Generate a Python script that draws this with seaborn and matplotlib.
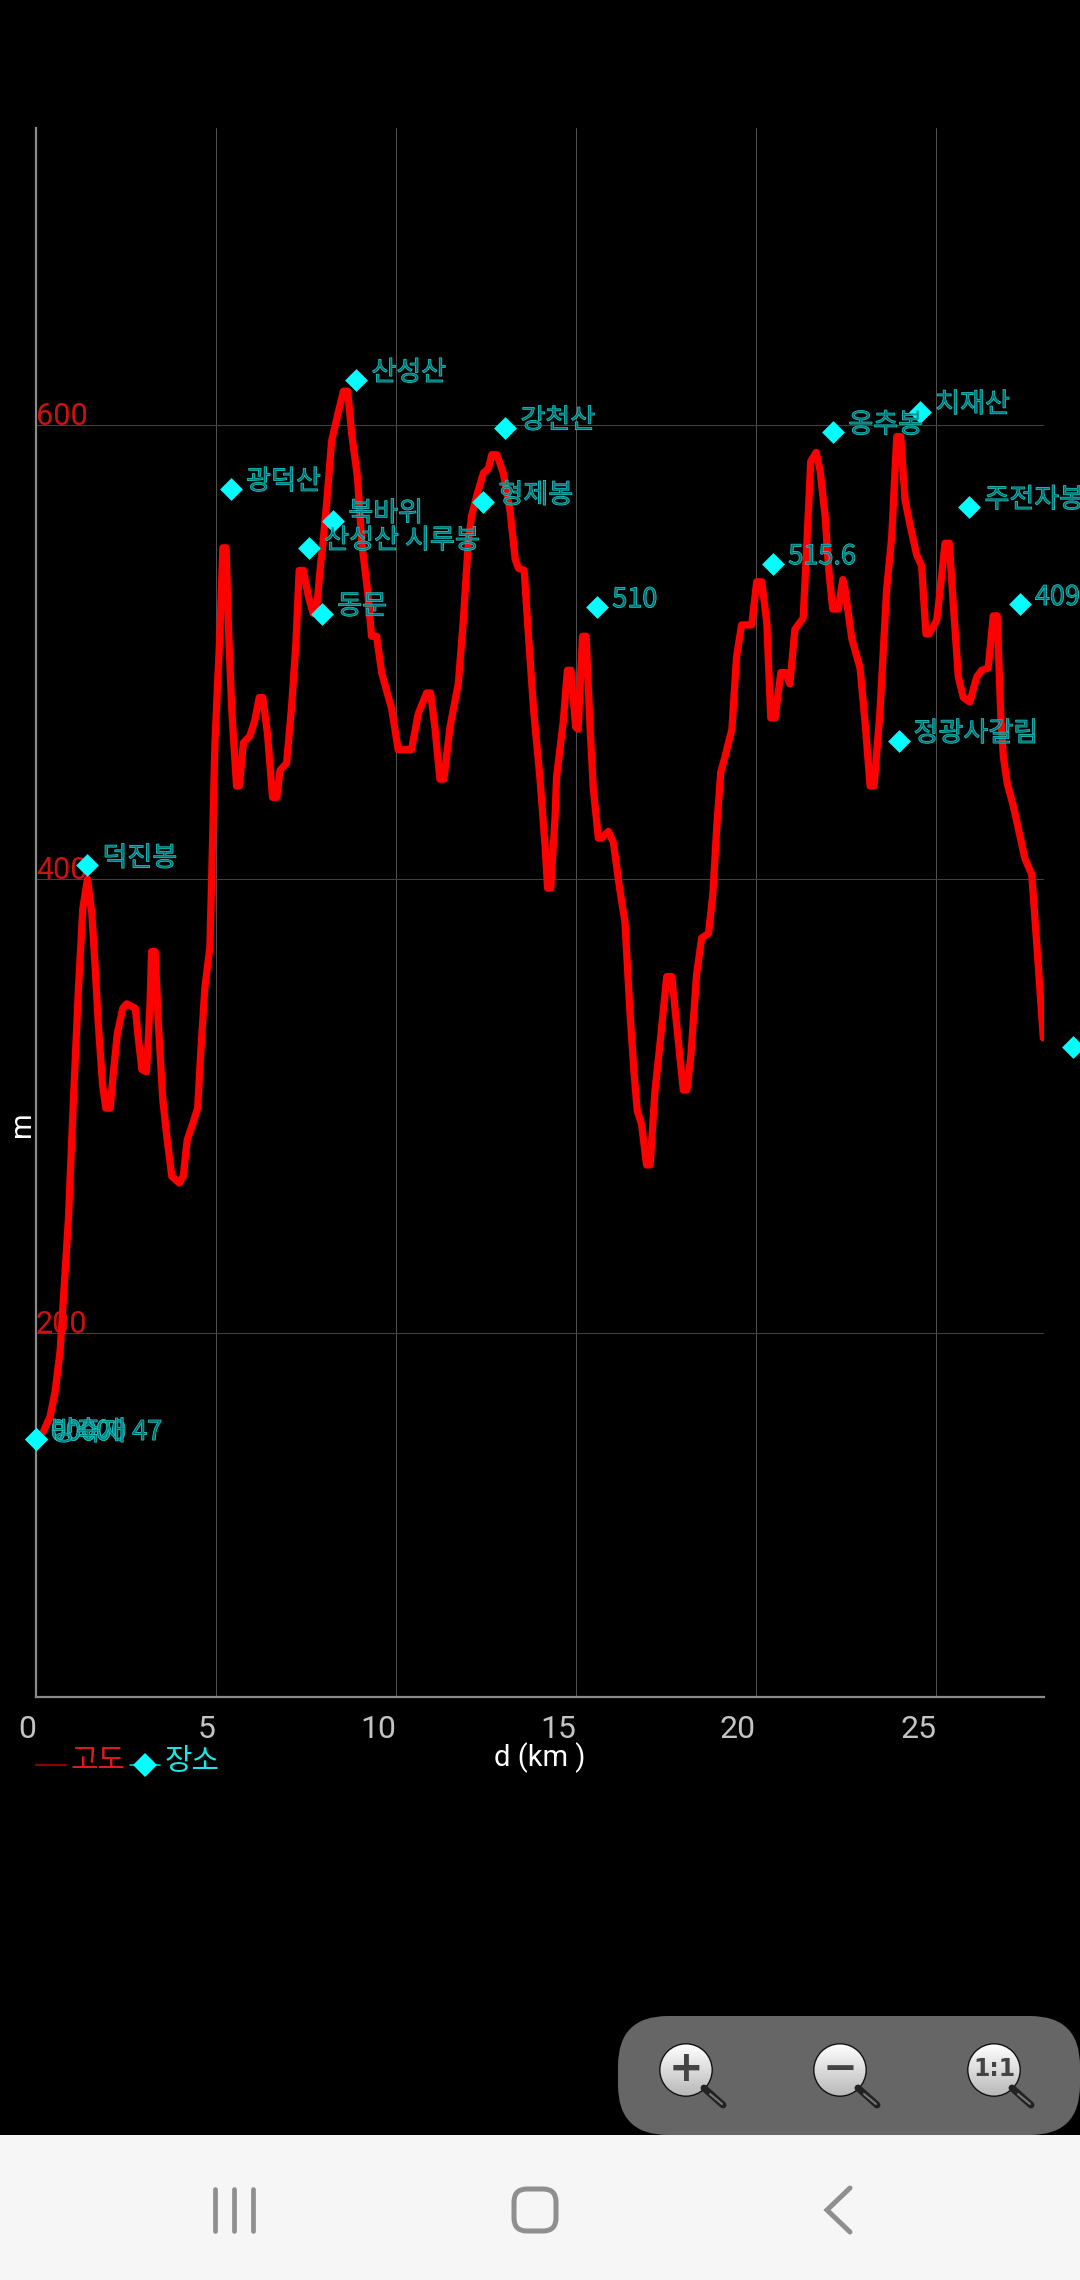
import numpy as np
import pandas as pd
import matplotlib.pyplot as plt
import matplotlib.patheffects as pe
from matplotlib.patches import Circle, FancyBboxPatch, Rectangle
import seaborn as sns

# Elevation profile
dist_km = [0, 0.19, 0.39, 0.53, 0.67, 0.90, 1.04, 1.18, 1.30, 1.43, 1.55, 1.64, 1.73, 1.85, 1.94, 2.06, 2.15, 2.26, 2.41, 2.52,
           2.76, 2.84, 2.94, 3.07, 3.17, 3.21, 3.31, 3.40, 3.52, 3.63, 3.77, 3.98, 4.09, 4.20, 4.37, 4.49, 4.57, 4.69, 4.83, 4.88,
           4.97, 5.11, 5.19, 5.28, 5.35, 5.44, 5.57, 5.65, 5.76, 5.94, 6.08, 6.20, 6.30, 6.43, 6.57, 6.69, 6.78, 6.96, 7.10, 7.22,
           7.31, 7.43, 7.56, 7.70, 7.81, 7.92, 7.96, 8.07, 8.21, 8.40, 8.54, 8.66, 8.77, 8.93, 9.05, 9.21, 9.32, 9.46, 9.60, 9.74,
           9.88, 10.06, 10.43, 10.62, 10.85, 10.96, 11.08, 11.22, 11.33, 11.50, 11.73, 11.87, 12.01, 12.10, 12.26, 12.43, 12.57, 12.66, 12.80, 12.98,
           13.17, 13.31, 13.40, 13.56, 13.68, 13.82, 14.00, 14.14, 14.21, 14.30, 14.42, 14.46, 14.65, 14.76, 14.86, 14.99, 15.06, 15.18, 15.28, 15.39,
           15.48, 15.62, 15.71, 15.90, 16.04, 16.20, 16.36, 16.50, 16.61, 16.70, 16.82, 16.96, 17.06, 17.19, 17.33, 17.52, 17.66, 17.84, 17.98, 18.08,
           18.19, 18.35, 18.49, 18.68, 18.80, 18.91, 19.02, 19.14, 19.33, 19.46, 19.60, 19.88, 20.02, 20.16, 20.30, 20.41, 20.53, 20.69, 20.82, 20.94,
           21.08, 21.31, 21.41, 21.52, 21.67, 21.78, 21.92, 22.01, 22.13, 22.29, 22.41, 22.47, 22.66, 22.89, 23.03, 23.17, 23.28, 23.44, 23.63, 23.77,
           23.91, 24.02, 24.14, 24.28, 24.46, 24.60, 24.72, 24.81, 25.02, 25.16, 25.25, 25.37, 25.48, 25.62, 25.76, 25.94, 26.13, 26.27, 26.45, 26.59,
           26.70, 26.80, 26.87, 26.98, 27.15, 27.33, 27.47, 27.66, 27.80, 27.98]
elev_m = [154, 156, 163, 174, 192, 250, 303, 352, 387, 400, 385, 362, 336, 309, 299, 299, 315, 332, 343, 345,
          343, 330, 316, 315, 346, 368, 368, 336, 303, 287, 269, 266, 269, 285, 293, 299, 322, 352, 370, 401,
          460, 509, 546, 546, 509, 474, 441, 441, 460, 463, 470, 480, 480, 464, 436, 436, 448, 451, 476, 504,
          536, 536, 525, 517, 522, 541, 546, 565, 593, 606, 615, 615, 596, 577, 548, 527, 507, 507, 491, 483,
          475, 457, 457, 473, 482, 482, 467, 444, 444, 467, 486, 514, 549, 560, 570, 579, 581, 587, 587, 579,
          562, 541, 537, 536, 507, 475, 444, 415, 396, 396, 428, 445, 470, 492, 492, 467, 466, 507, 507, 467,
          440, 418, 418, 421, 416, 397, 381, 341, 315, 298, 292, 274, 274, 306, 327, 357, 357, 329, 307, 307,
          322, 358, 374, 376, 393, 423, 447, 454, 466, 498, 512, 512, 531, 531, 513, 471, 471, 491, 491, 486,
          510, 515, 547, 584, 588, 580, 560, 538, 519, 519, 532, 528, 506, 493, 469, 441, 441, 473, 528, 551,
          595, 595, 567, 556, 543, 538, 508, 508, 514, 534, 548, 548, 521, 489, 480, 478, 489, 492, 493, 516,
          516, 472, 454, 442, 432, 419, 409, 402, 371, 330]

# Named places
place_km = [0, 0, 0, 1.43, 5.42, 7.95, 7.59, 8.26, 8.90, 13.04, 12.43, 15.59, 20.48, 22.15, 24.56, 25.93, 27.33, 23.96, 28.80]
place_m = [153, 153, 153, 406, 572, 517, 546, 558, 620, 599, 566, 520, 539, 597, 606, 564, 521, 461, 326]
place_names = ['00000 47', '0000', '방축재', '덕진봉', '광덕산', '동문', '산성산 시루봉', '북바위', '산성산', '강천산',
               '형제봉', '510', '515.6', '옹추봉', '치재산', '주전자봉', '409', '정광사갈림', '']

y_ticks = [200, 400, 600]
x_ticks = [0, 5, 10, 15, 20, 25]

sns.set_style("dark")
plt.rcParams['font.family'] = ['Noto Sans CJK KR', 'DejaVu Sans']

W, H = 1080, 2280
fig = plt.figure(figsize=(W / 100, H / 100), dpi=100, facecolor='black')
ax = fig.add_axes([36 / W, (H - 1697) / H, 1008 / W, 1569 / H], facecolor='black')

profile = pd.DataFrame({'km': dist_km, 'm': elev_m})
places = pd.DataFrame({'km': place_km, 'm': place_m, 'name': place_names})

sns.lineplot(data=profile, x='km', y='m', color='#ff0000', linewidth=5.2, sort=False,
             estimator=None, errorbar=None, solid_joinstyle='round', ax=ax, zorder=3)
sns.scatterplot(data=places, x='km', y='m', color='#00ffff', marker='D', s=135, linewidth=0,
                clip_on=False, ax=ax, zorder=4)

ax.set_xlim(0, 28)
ax.set_ylim(39.5, 731)
ax.set_xticks(x_ticks)
ax.set_yticks(y_ticks)
ax.grid(True, axis='x', color='#505050', linewidth=0.75)
ax.grid(True, axis='y', color='#404040', linewidth=0.75)
ax.set_axisbelow(True)
for side in ['top', 'right']:
    ax.spines[side].set_visible(False)
for side in ['left', 'bottom']:
    ax.spines[side].set_color('#8a8a8a')
    ax.spines[side].set_linewidth(1.6)

ax.tick_params(axis='x', length=7, width=1, color='#8a8a8a', pad=6, labelcolor='#c4c4c4', labelsize=23)
ax.tick_params(axis='y', length=3, width=1, color='#cc1111', pad=-3, labelcolor='#cc1111', labelsize=22)
for lab in ax.get_xticklabels():
    lab.set_ha('right')
    lab.set_family('Roboto')
for lab in ax.get_yticklabels():
    lab.set_ha('left')
    lab.set_va('baseline')
    lab.set_family('Roboto')

ax.set_xlabel('d (km )', color='white', fontsize=21, family='Roboto', va='center')
ax.xaxis.set_label_coords(0.5, -(1758 - 1697) / 1569)
ax.set_ylabel('m', color='white', fontsize=21, family='Roboto', va='center')
ax.yaxis.set_label_coords(-0.0139, (1697 - 1124) / 1569)

outline = [pe.withStroke(linewidth=0.7, foreground='#22d0d0')]
for km, m, name in zip(place_km, place_m, place_names):
    ax.annotate(name, (km, m), xytext=(15, 7), textcoords='offset pixels', fontsize=19.5,
                color=(0.0, 0.5, 0.5, 0.6), va='center', ha='left', path_effects=outline, zorder=5,
                annotation_clip=False)

# Screen furniture, drawn in pixel coordinates
ui = fig.add_axes([0, 0, 1, 1], facecolor='none')
ui.set_xlim(0, W)
ui.set_ylim(H, 0)
ui.axis('off')

# legend row
ui.plot([36, 66], [1765, 1765], color='#8b0000', lw=1.6)
ui.text(71, 1761, '고도', color='#dd1a1a', fontsize=21.5, va='center')
ui.plot([130, 160], [1765, 1765], color='#00c8c8', lw=1.2)
ui.plot([145], [1765], marker='D', color='#00ffff', ms=12.5, mew=0)
ui.text(165, 1761, '장소', color='#1ee6e6', fontsize=21.5, va='center')

# zoom buttons
ui.add_patch(FancyBboxPatch((618, 2016), 462, 119, boxstyle='round,pad=0,rounding_size=50', fc='#666666', ec='none'))
ui.add_patch(Rectangle((0, 2135), W, 145, fc='#f6f6f6', ec='none', zorder=3))
grad = np.linspace(1.0, 0.72, 64).reshape(-1, 1)
button_x = [686, 840, 994]
button_txt = ['+', '\u2212', '1:1']
for bx, txt in zip(button_x, button_txt):
    ui.plot([bx + 18, bx + 37], [2088, 2105], color='#222222', lw=5, solid_capstyle='round')
    ui.plot([bx + 24, bx + 36], [2094, 2104], color='#777777', lw=1.5)
    circ = Circle((bx, 2070), 25.5, fc='#eeeeee', ec='#111111', lw=2)
    ui.add_patch(circ)
    im = ui.imshow(grad, cmap='gray', vmin=0, vmax=1, extent=(bx - 26, bx + 26, 2096, 2044), aspect='auto', zorder=1.5)
    im.set_clip_path(circ)
    ui.text(bx, 2069, txt, color='#444444', ha='center', va='center', fontsize=17 if txt == '1:1' else 30,
            fontweight='bold', family='DejaVu Sans', zorder=2)
ui.set_xlim(0, W)
ui.set_ylim(H, 0)

# nav bar
for bx in [215, 234, 253]:
    ui.plot([bx, bx], [2189, 2231], color='#8f8f8f', lw=3.4, zorder=4, solid_capstyle='round')
ui.add_patch(FancyBboxPatch((514, 2189), 42, 42, boxstyle='round,pad=0,rounding_size=13', fc='none', ec='#8f8f8f',
                            lw=3.6, zorder=4))
ui.plot([850, 827, 850], [2188, 2210, 2232], color='#8f8f8f', lw=3.6, zorder=4, solid_capstyle='round',
        solid_joinstyle='miter')

fig.savefig('out.png', dpi=100, facecolor='black')
